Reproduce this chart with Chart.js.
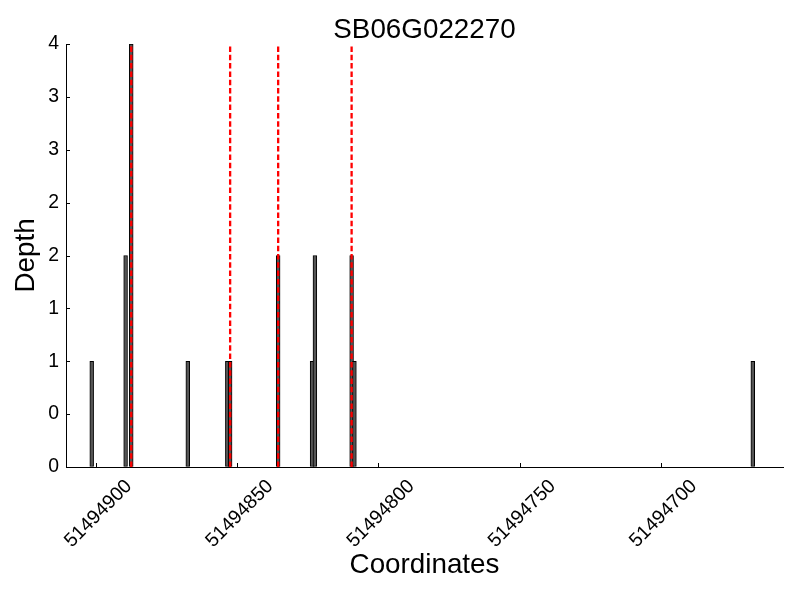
<!DOCTYPE html>
<html>
<head>
<meta charset="utf-8">
<script src="https://cdn.jsdelivr.net/npm/chart.js@4/dist/chart.umd.min.js"></script>
<style>
  html, body { margin: 0; padding: 0; background: #fff; }
  #wrap { width: 800px; height: 600px; }
</style>
</head>
<body>
<div id="wrap"><canvas id="depthChart" width="800" height="600"></canvas></div>
<script>
// read depth bars (coordinate, depth) off the picture
const coords = [51494901, 51494889, 51494887, 51494867, 51494853, 51494852,
                51494835, 51494823, 51494822, 51494809, 51494808, 51494667];
const depths = [1, 2, 4, 1, 1, 1, 2, 1, 2, 2, 1, 1];

// red dashed marker positions
const markers = [51494887.5, 51494852.5, 51494835.5, 51494809.5];

const xTicks = [51494700, 51494750, 51494800, 51494850, 51494900];
const yTicks = [0, 0.5, 1, 1.5, 2, 2.5, 3, 3.5, 4];
const yTickLabels = ['0', '0', '1', '1', '2', '2', '3', '3', '4'];

const xMin = 51494656.8;
const xMax = 51494910.6;

const FONT = '"Liberation Sans", Arial, sans-serif';

// bars placed at left edge of each unit, like bar(align='edge')
const barData = coords.map((c, i) => ({ x: c + 0.5, y: depths[i] }));

const markerSets = markers.map(m => ({
    type: 'line',
    data: [{ x: m, y: 0 }, { x: m, y: 4 }],
    borderColor: '#ff0000',
    borderWidth: 2.3,
    borderDash: [5.5, 2.8],
    pointRadius: 0,
    fill: false,
    order: 0
}));

// small inward ticks, like matplotlib
const innerTicks = {
    id: 'innerTicks',
    afterDraw(chart) {
        const c = chart.ctx;
        const xs = chart.scales.x, ys = chart.scales.y;
        c.save();
        c.strokeStyle = '#000';
        c.lineWidth = 1;
        xs.ticks.forEach(t => {
            const px = Math.round(xs.getPixelForValue(t.value)) + 0.5;
            c.beginPath();
            c.moveTo(px, ys.bottom);
            c.lineTo(px, ys.bottom - 4);
            c.stroke();
        });
        ys.ticks.forEach(t => {
            const py = Math.round(ys.getPixelForValue(t.value)) + 0.5;
            c.beginPath();
            c.moveTo(xs.left, py);
            c.lineTo(xs.left + 4, py);
            c.stroke();
        });
        c.restore();
    }
};

const ctx = document.getElementById('depthChart').getContext('2d');
const depthChart = new Chart(ctx, {
    type: 'bar',
    data: {
        datasets: [{
            label: 'Depth',
            data: barData,
            backgroundColor: '#555555',
            borderColor: '#000000',
            borderWidth: 1,
            borderSkipped: false,
            barThickness: 3.8,
            order: 1
        }, ...markerSets]
    },
    options: {
        responsive: false,
        animation: false,
        layout: { padding: { left: 0, right: 17, top: 0, bottom: 0 } },
        plugins: {
            legend: { display: false },
            tooltip: { enabled: false },
            title: {
                display: true,
                fullSize: false,
                text: 'SB06G022270',
                color: '#000',
                font: { family: FONT, size: 27.8, weight: 'normal', lineHeight: 1 },
                padding: { top: 16, bottom: 0.2 }
            }
        },
        scales: {
            x: {
                type: 'linear',
                reverse: true,
                offset: false,
                min: xMin,
                max: xMax,
                afterBuildTicks: s => { s.ticks = xTicks.map(v => ({ value: v })); },
                afterFit: s => { s.height = 133; },
                grid: { display: true, drawOnChartArea: false, drawTicks: false },
                border: { display: true, color: '#000', width: 1 },
                ticks: {
                    minRotation: 45,
                    maxRotation: 45,
                    autoSkip: false,
                    labelOffset: 33,
                    padding: 8,
                    color: '#000',
                    font: { family: FONT, size: 19.4 },
                    callback: v => String(v)
                },
                title: {
                    display: true,
                    text: 'Coordinates',
                    color: '#000',
                    font: { family: FONT, size: 27.8, lineHeight: 1 },
                    padding: { top: 0, bottom: 21 }
                }
            },
            y: {
                min: 0,
                max: 4,
                afterBuildTicks: s => { s.ticks = yTicks.map(v => ({ value: v })); },
                afterFit: s => { s.width = 66; },
                grid: { display: true, drawOnChartArea: false, drawTicks: false },
                border: { display: true, color: '#000', width: 1 },
                ticks: {
                    padding: 7,
                    color: '#000',
                    font: { family: FONT, size: 19.4 },
                    callback: (v, i) => yTickLabels[i]
                },
                title: {
                    display: true,
                    text: 'Depth',
                    color: '#000',
                    font: { family: FONT, size: 27.8, lineHeight: 1 },
                    padding: { top: 12, bottom: 0 }
                }
            }
        }
    },
    plugins: [innerTicks]
});
</script>
</body>
</html>
